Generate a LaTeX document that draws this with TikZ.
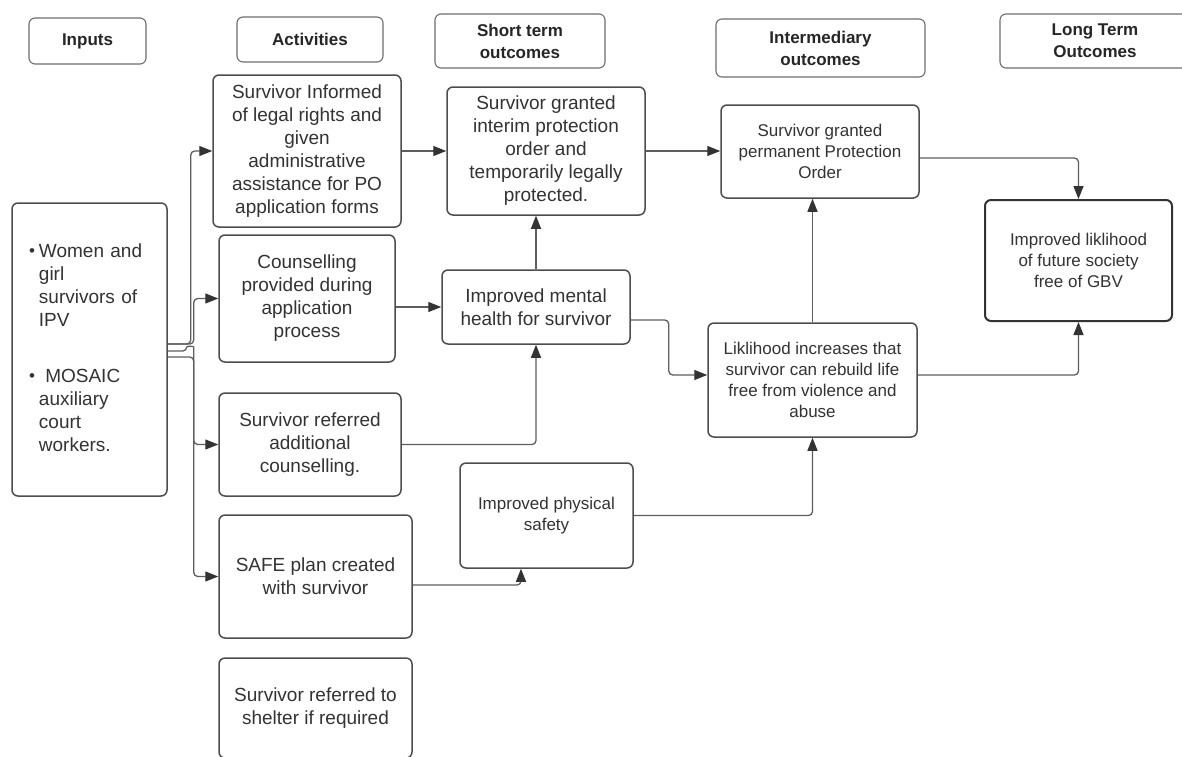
\documentclass[tikz,border=0pt]{standalone}
\usepackage{fontspec}
\setmainfont{Liberation Sans}
\usetikzlibrary{arrows.meta}

\definecolor{boxline}{HTML}{4D4D4D}
\definecolor{hdrline}{HTML}{6E6E6E}
\definecolor{conline}{HTML}{5E5E5E}
\definecolor{tipcol}{HTML}{333333}
\definecolor{txt}{HTML}{333333}

\newcommand\bigtxt{\fontsize{19}{23}\selectfont}
\newcommand\smalltxt{\fontsize{17}{21}\selectfont}
\newcommand\headtxt{\fontsize{17}{22}\selectfont\bfseries}
\newcommand\bul{\raisebox{0.5pt}{\fontsize{17}{17}\selectfont\textbullet}}

\begin{document}
\begin{tikzpicture}[x=1pt,y=-1pt,
  box/.style={draw=boxline, line width=1.5pt, rounded corners=6pt, align=center,
    text=txt, inner sep=0pt, font=\bigtxt},
  smallbox/.style={box, font=\smalltxt},
  hdr/.style={draw=hdrline, line width=1.1pt, rounded corners=6pt, align=center,
    text=black!85, inner sep=0pt, font=\headtxt},
  conn/.style={draw=conline, line width=1.3pt, rounded corners=4pt,
    -{Triangle[length=13pt,width=10pt,fill=tipcol,color=tipcol]}}
]
\useasboundingbox (0,0) rectangle (1182,756);
\fill[white] (0,0) rectangle (1182,756);

% column headings
\node[hdr, minimum width=117pt, minimum height=46pt] (hInputs) at (87.5,41) {Inputs};
\node[hdr, minimum width=146pt, minimum height=45pt] (hAct) at (310,39.5) {Activities};
\node[hdr, minimum width=170pt, minimum height=54pt] (hShort) at (520,41) {Short term\\outcomes};
\node[hdr, minimum width=209pt, minimum height=58pt] (hInter) at (820.5,48) {Intermediary\\outcomes};
\node[hdr, minimum width=190pt, minimum height=54pt] (hLong) at (1095,41) {Long Term\\Outcomes};

% inputs
\node[box, align=left, text width=121pt, inner xsep=17pt, minimum height=293pt] (inp) at (89.5,349.5)
  {\begin{tabular}{@{}l@{\hspace{4pt}}l@{}}
   \bul & Women and\\
        & girl\\
        & survivors of\\
        & IPV\\[33pt]
   \bul & \ MOSAIC\\
        & auxiliary\\
        & court\\
        & workers.
   \end{tabular}};

% activities
\node[box, minimum width=188pt, minimum height=152pt] (act1) at (307,151)
  {Survivor Informed\\of legal rights and\\given\\administrative\\assistance for PO\\application forms};
\node[box, minimum width=176pt, minimum height=127pt] (couns) at (307,298.5)
  {Counselling\\provided during\\application\\process};
\node[box, minimum width=182pt, minimum height=103pt] (refd) at (310,444.5)
  {Survivor referred\\additional\\counselling.};
\node[box, minimum width=193pt, minimum height=123pt] (safe) at (315.5,576.5)
  {SAFE plan created\\with survivor};
\node[box, minimum width=193pt, minimum height=100pt] (shelter) at (315.5,708)
  {Survivor referred to\\shelter if required};

% short term outcomes
\node[box, minimum width=198pt, minimum height=128pt] (interim) at (546,151)
  {Survivor granted\\interim protection\\order and\\temporarily legally\\protected.};
\node[box, minimum width=188pt, minimum height=74pt] (mh) at (536,307)
  {Improved mental\\health for survivor};
\node[smallbox, minimum width=173pt, minimum height=105pt] (phys) at (546.5,515.5)
  {Improved physical\\safety};

% intermediary outcomes
\node[smallbox, minimum width=198pt, minimum height=93pt] (po) at (820,151.5)
  {Survivor granted\\permanent Protection\\Order};
\node[smallbox, minimum width=209pt, minimum height=114pt] (likl) at (812.5,380)
  {Liklihood increases that\\survivor can rebuild life\\free from violence and\\abuse};

% long term outcome
\node[smallbox, draw=black!80, line width=2pt, minimum width=187pt, minimum height=121pt] (gbv) at (1078.5,260.5)
  {Improved liklihood\\of future society\\free of GBV};

% inputs feeding the activities
\draw[conn] ([yshift=5.5pt]inp.east) -- ++(23,0) |- (act1.west);
\draw[conn] ([yshift=5.5pt]inp.east) -- ++(26,0) |- (couns.west);
\draw[conn] ([yshift=-1.5pt]inp.east) -- ++(19,0)
  .. controls +(0,-5) and +(0,-5) .. ++(7,0) |- (refd.west);
\draw[conn] ([yshift=-7.5pt]inp.east) -- ++(26,0) |- (safe.west);

% activities to short term outcomes
\draw[conn] (act1.east) -- (interim.west);
\draw[conn] (couns.east |- mh.west) -- (mh.west);
\draw[conn] (refd.east) -| (mh.south);
\draw[conn] ([yshift=-8.5pt]safe.east) -| ([xshift=-25.5pt]phys.south);
\draw[conn] (mh.north) -- (mh.north |- interim.south);

% short term to intermediary outcomes
\draw[conn] (interim.east) -- (interim.east -| po.west);
\draw[conn] ([yshift=-13pt]mh.east) -- ++(38,0) |- ([yshift=5pt]likl.west);
\draw[conn] (phys.east) -| (likl.south);
\draw[conn] (likl.north) -- (likl.north |- po.south);

% intermediary to long term outcome
\draw[conn] ([yshift=-6.5pt]po.east) -| (gbv.north);
\draw[conn] ([yshift=5pt]likl.east) -| (gbv.south);
\end{tikzpicture}
\end{document}
